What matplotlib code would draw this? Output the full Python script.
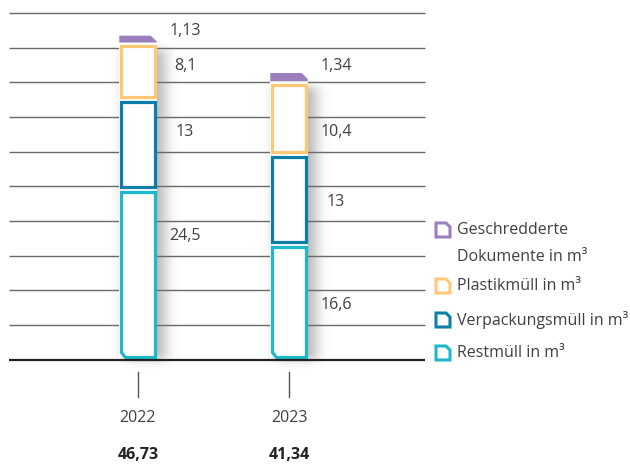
import math
import numpy as np
import matplotlib
matplotlib.use('Agg')
import matplotlib.pyplot as plt
from matplotlib.patches import Polygon, Rectangle

plt.rcParams['font.family'] = ['Open Sans', 'DejaVu Sans']

# data
years = ['2022', '2023']
rest = [24.5, 16.6]
verpackung = [13, 13]
plastik = [8.1, 10.4]
dokumente = [1.13, 1.34]
series_names = ['Geschredderte\nDokumente in m³', 'Plastikmüll in m³',
                'Verpackungsmüll in m³', 'Restmüll in m³']
# label heights (in chart units) next to each segment, bottom to top
label_y = [[17.8, 32.8, 42.4, 47.4],
           [7.9, 22.7, 32.8, 42.4]]

colors = ['#1db8c9', '#0b7fa7', '#ffc874', '#9b7fbd']  # rest, verp, plastik, doku
txt_col = '#404040'

W, H = 630, 465
fig = plt.figure(figsize=(W / 100, H / 100), dpi=100)
y0px, y50px = 359.5, 13
x_left, x_right = 9, 425
ax = fig.add_axes([x_left / W, (H - y0px) / H, (x_right - x_left) / W, (y0px - y50px) / H])
PXY = (y0px - y50px) / 50.0      # px per unit
PXX = 151.0                      # px per category step
xmin = (x_left - 138) / PXX
xmax = (x_right - 138) / PXX
ax.set_xlim(xmin, xmax)
ax.set_ylim(0, 50)
ax.axis('off')

# grid
ax.hlines(np.arange(5, 51, 5), xmin, xmax, color='#6a6a6a', lw=1.0, zorder=2, clip_on=False)
ax.hlines(0, xmin, xmax, color='#222222', lw=1.6, zorder=6, clip_on=False)


def seg_poly(xl, xr, yb, yt, corner=None, c=5.5):
    cx, cy = c / PXX, c / PXY
    if corner == 'tr':
        pts = [(xl, yb), (xl, yt), (xr - cx, yt), (xr, yt - cy), (xr, yb)]
    elif corner == 'bl':
        pts = [(xl, yb + cy), (xl, yt), (xr, yt), (xr, yb), (xl + cx, yb)]
    else:
        pts = [(xl, yb), (xl, yt), (xr, yt), (xr, yb)]
    return pts


bar_w = 37.5 / PXX
gap = 2.0 / PXY
lw_px = 3.2
ins_x, ins_y = (lw_px / 2) / PXX, (lw_px / 2) / PXY

erf = np.vectorize(math.erf)
for i in range(len(years)):
    vals = [rest[i], verpackung[i], plastik[i], dokumente[i]]
    top = sum(vals)
    xr = i + bar_w / 2
    xl = i - bar_w / 2

    # soft shadow to the right of the bar
    nx, ny = 80, 200
    gx = np.linspace(xl - 10 / PXX, xr + 36 / PXX, nx)
    gy = np.linspace(-3.0, top, ny)
    sx, sy = 10.0 / PXX, 6.0 / PXY
    fx = 0.5 * (erf((gx - (xl + 6 / PXX)) / sx) - erf((gx - (xr + 8 / PXX)) / sx))
    fy = 0.5 * (erf((gy - (-0.2)) / sy) - erf((gy - (top - 2)) / sy))
    alpha = 0.42 * np.outer(fy, fx)
    img = np.zeros((ny, nx, 4))
    img[..., :3] = 0.3
    img[..., 3] = alpha
    ax.imshow(img, extent=[gx[0], gx[-1], gy[0], gy[-1]], origin='lower',
              aspect='auto', zorder=1, interpolation='bilinear', clip_on=False)
    # white backing
    ax.add_patch(Rectangle((xl, gap / 2), bar_w, top - gap / 2, facecolor='white',
                           edgecolor='none', zorder=3))

    bottom = 0
    for k, v in enumerate(vals):
        yb = bottom + gap / 2
        yt = bottom + v - gap / 2
        if k == 3:
            pts = seg_poly(xl, xr, yb, bottom + v, corner='tr', c=6)
            ax.add_patch(Polygon(pts, closed=True, facecolor=colors[k], edgecolor='none', zorder=4))
        else:
            corner = 'bl' if k == 0 else None
            pts = seg_poly(xl + ins_x, xr - ins_x, yb + ins_y, yt - ins_y, corner=corner, c=4.5)
            ax.add_patch(Polygon(pts, closed=True, facecolor='white', edgecolor=colors[k],
                                 lw=lw_px * 0.72, joinstyle='miter', zorder=4))
        ax.text(i + 47 / PXX, label_y[i][k], f'{v:g}'.replace('.', ','), ha='center', va='center',
                fontsize=11.5, color=txt_col, zorder=7)
        bottom += v

    # tick, year, total
    ax.plot([i, i], [-1.8, -5.4], color='#555555', lw=1.0, clip_on=False, zorder=6)
    ax.text(i, -8.45, years[i], ha='center', va='center', fontsize=11.5, color=txt_col)
    total = f'{round(top, 2):.2f}'.replace('.', ',')
    ax.text(i, -13.8, total, ha='center', va='center', fontsize=11.5, fontweight='bold',
            color='#222222')

# legend (pixel coords overlay)
ov = fig.add_axes([0, 0, 1, 1], zorder=10)
ov.set_xlim(0, W)
ov.set_ylim(H, 0)
ov.axis('off')
ov.patch.set_alpha(0)
leg_rows = [230, 286, 320, 353]
leg_cols = [colors[3], colors[2], colors[1], colors[0]]
for name, yc, col in zip(series_names, leg_rows, leg_cols):
    x0, x1 = 436, 450
    yt, yb = yc - 7, yc + 7
    c = 4
    pts = [(x0, yb), (x0, yt), (x1 - c, yt), (x1, yt + c), (x1, yb)]
    ov.add_patch(Polygon(pts, closed=True, facecolor='white', edgecolor=col, lw=2.2,
                         joinstyle='miter'))
    lines = name.split('\n')
    for j, line in enumerate(lines):
        ov.text(457, yc + 27 * j, line, ha='left', va='center', fontsize=11.5, color=txt_col)

fig.savefig('out.png', dpi=100)
